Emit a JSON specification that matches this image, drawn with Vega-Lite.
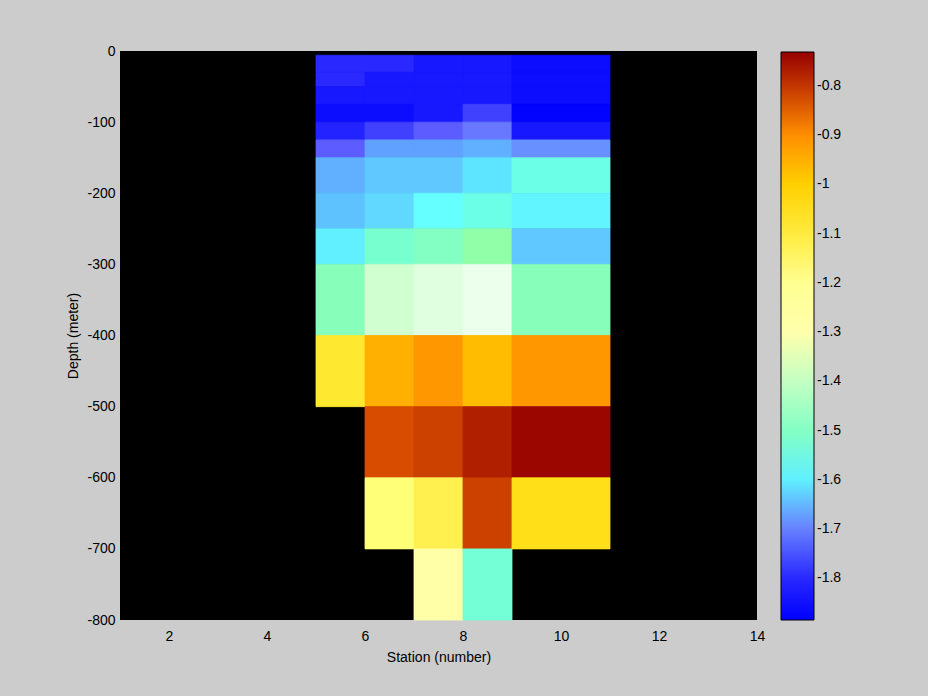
{
  "$schema": "https://vega.github.io/schema/vega-lite/v6.json",
  "autosize": {"type": "none"},
  "padding": {"left": 120, "top": 51, "right": 171, "bottom": 76},
  "width": 637,
  "height": 569,
  "background": "#cccccc",
  "view": {"fill": "black", "stroke": null},
  "config": {
    "font": "Liberation Sans",
    "axis": {"labelFont": "Liberation Sans", "titleFont": "Liberation Sans", "labelFontSize": 14, "titleFontSize": 14, "titleFontWeight": "normal", "labelColor": "black", "titleColor": "black", "ticks": false, "domain": false, "grid": false, "labelFlush": false, "labelOverlap": false, "labelBound": false},
    "legend": {"labelFont": "Liberation Sans", "labelFontSize": 14, "labelColor": "black"}
  },
  "data": {
    "values": [
      {"x0": 5, "x1": 6, "d0": -6, "d1": -30, "v": -1.80},
      {"x0": 5, "x1": 6, "d0": -30, "d1": -50, "v": -1.80},
      {"x0": 5, "x1": 6, "d0": -50, "d1": -75, "v": -1.83},
      {"x0": 5, "x1": 6, "d0": -75, "d1": -100, "v": -1.85},
      {"x0": 5, "x1": 6, "d0": -100, "d1": -125, "v": -1.81},
      {"x0": 5, "x1": 6, "d0": -125, "d1": -150, "v": -1.73},
      {"x0": 5, "x1": 6, "d0": -150, "d1": -200, "v": -1.66},
      {"x0": 5, "x1": 6, "d0": -200, "d1": -250, "v": -1.645},
      {"x0": 5, "x1": 6, "d0": -250, "d1": -300, "v": -1.60},
      {"x0": 5, "x1": 6, "d0": -300, "d1": -400, "v": -1.49},
      {"x0": 5, "x1": 6, "d0": -400, "d1": -500, "v": -1.085},

      {"x0": 6, "x1": 7, "d0": -6, "d1": -30, "v": -1.80},
      {"x0": 6, "x1": 7, "d0": -30, "d1": -50, "v": -1.83},
      {"x0": 6, "x1": 7, "d0": -50, "d1": -75, "v": -1.83},
      {"x0": 6, "x1": 7, "d0": -75, "d1": -100, "v": -1.85},
      {"x0": 6, "x1": 7, "d0": -100, "d1": -125, "v": -1.76},
      {"x0": 6, "x1": 7, "d0": -125, "d1": -150, "v": -1.675},
      {"x0": 6, "x1": 7, "d0": -150, "d1": -200, "v": -1.64},
      {"x0": 6, "x1": 7, "d0": -200, "d1": -250, "v": -1.62},
      {"x0": 6, "x1": 7, "d0": -250, "d1": -300, "v": -1.52},
      {"x0": 6, "x1": 7, "d0": -300, "d1": -400, "v": -1.38},
      {"x0": 6, "x1": 7, "d0": -400, "d1": -500, "v": -0.95},
      {"x0": 6, "x1": 7, "d0": -500, "d1": -600, "v": -0.825},
      {"x0": 6, "x1": 7, "d0": -600, "d1": -700, "v": -1.175},

      {"x0": 7, "x1": 8, "d0": -6, "d1": -30, "v": -1.83},
      {"x0": 7, "x1": 8, "d0": -30, "d1": -50, "v": -1.83},
      {"x0": 7, "x1": 8, "d0": -50, "d1": -75, "v": -1.83},
      {"x0": 7, "x1": 8, "d0": -75, "d1": -100, "v": -1.83},
      {"x0": 7, "x1": 8, "d0": -100, "d1": -125, "v": -1.73},
      {"x0": 7, "x1": 8, "d0": -125, "d1": -150, "v": -1.675},
      {"x0": 7, "x1": 8, "d0": -150, "d1": -200, "v": -1.64},
      {"x0": 7, "x1": 8, "d0": -200, "d1": -250, "v": -1.585},
      {"x0": 7, "x1": 8, "d0": -250, "d1": -300, "v": -1.50},
      {"x0": 7, "x1": 8, "d0": -300, "d1": -400, "v": -1.355},
      {"x0": 7, "x1": 8, "d0": -400, "d1": -500, "v": -0.915},
      {"x0": 7, "x1": 8, "d0": -500, "d1": -600, "v": -0.81},
      {"x0": 7, "x1": 8, "d0": -600, "d1": -700, "v": -1.12},
      {"x0": 7, "x1": 8, "d0": -700, "d1": -800, "v": -1.225},

      {"x0": 8, "x1": 9, "d0": -6, "d1": -30, "v": -1.83},
      {"x0": 8, "x1": 9, "d0": -30, "d1": -50, "v": -1.83},
      {"x0": 8, "x1": 9, "d0": -50, "d1": -75, "v": -1.83},
      {"x0": 8, "x1": 9, "d0": -75, "d1": -100, "v": -1.76},
      {"x0": 8, "x1": 9, "d0": -100, "d1": -125, "v": -1.705},
      {"x0": 8, "x1": 9, "d0": -125, "d1": -150, "v": -1.66},
      {"x0": 8, "x1": 9, "d0": -150, "d1": -200, "v": -1.61},
      {"x0": 8, "x1": 9, "d0": -200, "d1": -250, "v": -1.56},
      {"x0": 8, "x1": 9, "d0": -250, "d1": -300, "v": -1.47},
      {"x0": 8, "x1": 9, "d0": -300, "d1": -400, "v": -1.34},
      {"x0": 8, "x1": 9, "d0": -400, "d1": -500, "v": -0.97},
      {"x0": 8, "x1": 9, "d0": -500, "d1": -600, "v": -0.78},
      {"x0": 8, "x1": 9, "d0": -600, "d1": -700, "v": -0.81},
      {"x0": 8, "x1": 9, "d0": -700, "d1": -800, "v": -1.53},

      {"x0": 9, "x1": 11, "d0": -6, "d1": -30, "v": -1.85},
      {"x0": 9, "x1": 11, "d0": -30, "d1": -50, "v": -1.85},
      {"x0": 9, "x1": 11, "d0": -50, "d1": -75, "v": -1.85},
      {"x0": 9, "x1": 11, "d0": -75, "d1": -100, "v": -1.88},
      {"x0": 9, "x1": 11, "d0": -100, "d1": -125, "v": -1.83},
      {"x0": 9, "x1": 11, "d0": -125, "d1": -150, "v": -1.69},
      {"x0": 9, "x1": 11, "d0": -150, "d1": -200, "v": -1.56},
      {"x0": 9, "x1": 11, "d0": -200, "d1": -250, "v": -1.595},
      {"x0": 9, "x1": 11, "d0": -250, "d1": -300, "v": -1.64},
      {"x0": 9, "x1": 11, "d0": -300, "d1": -400, "v": -1.49},
      {"x0": 9, "x1": 11, "d0": -400, "d1": -500, "v": -0.915},
      {"x0": 9, "x1": 11, "d0": -500, "d1": -600, "v": -0.74},
      {"x0": 9, "x1": 11, "d0": -600, "d1": -700, "v": -1.06}
    ]
  },
  "mark": {"type": "rect", "stroke": {"expr": "scale('color', datum.v)"}, "strokeWidth": 0.8},
  "encoding": {
    "x": {"field": "x0", "type": "quantitative", "scale": {"domain": [1, 14], "nice": false, "zero": false},
      "axis": {"values": [2, 4, 6, 8, 10, 12, 14], "title": "Station (number)", "labelPadding": 9, "titlePadding": 7}},
    "x2": {"field": "x1"},
    "y": {"field": "d0", "type": "quantitative", "scale": {"domain": [-800, 0], "nice": false, "zero": false},
      "axis": {"values": [0, -100, -200, -300, -400, -500, -600, -700, -800], "labelExpr": "'' + datum.value", "title": "Depth (meter)", "labelPadding": 5, "titlePadding": 6}},
    "y2": {"field": "d1"},
    "color": {"field": "v", "type": "quantitative",
      "scale": {"domain": [-1.885, -1.85, -1.83, -1.80, -1.76, -1.73, -1.705, -1.69, -1.675, -1.66, -1.64, -1.62, -1.60, -1.585, -1.56, -1.52, -1.50, -1.47, -1.43, -1.38, -1.355, -1.34, -1.30, -1.225, -1.175, -1.12, -1.085, -1.06, -1.0, -0.97, -0.95, -0.915, -0.88, -0.85, -0.825, -0.81, -0.78, -0.731],
        "range": ["#0000ff", "#0c0cff", "#1818ff", "#2828ff", "#4040ff", "#5c5cff", "#6878ff", "#6890ff", "#60a0ff", "#60b0ff", "#60c8ff", "#60d8ff", "#60f0ff", "#66ffff", "#6cffe8", "#78ffd0", "#84ffc4", "#90ffa8", "#b0ffb0", "#d0ffd0", "#e0ffe0", "#ecffec", "#ffffff", "#ffffa8", "#ffff78", "#fff050", "#ffe830", "#ffe018", "#ffd000", "#ffbc00", "#ffb000", "#ff9800", "#ff8000", "#f06000", "#d84c00", "#cc4000", "#b02000", "#960000"]},
      "legend": {"type": "gradient", "orient": "none", "legendX": 661, "legendY": 1, "direction": "vertical", "gradientLength": 568, "gradientThickness": 33, "title": null, "padding": 0, "values": [-0.8, -0.9, -1, -1.1, -1.2, -1.3, -1.4, -1.5, -1.6, -1.7, -1.8], "labelExpr": "'' + datum.value", "labelOffset": 3, "labelOverlap": false, "gradientStrokeColor": "black", "gradientStrokeWidth": 1}}
  }
}
